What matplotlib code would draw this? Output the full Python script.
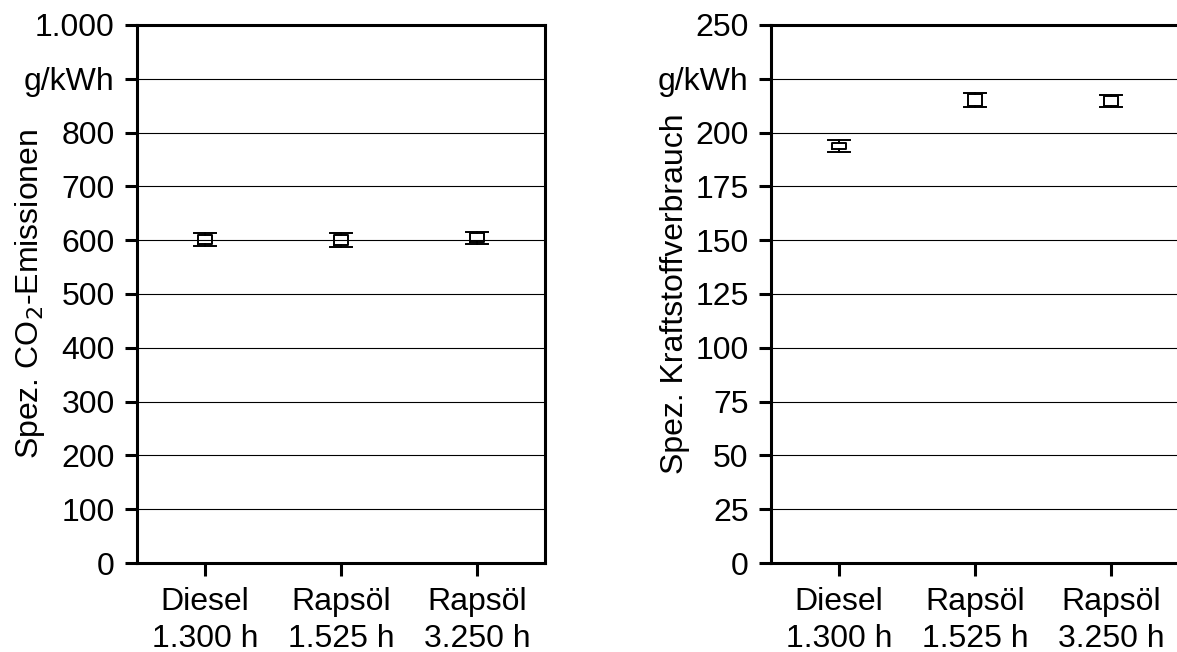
import numpy as np
import matplotlib.pyplot as plt

plt.rcParams['font.family'] = ['Liberation Sans', 'DejaVu Sans']
plt.rcParams['font.size'] = 23

categories = ['Diesel\n1.300 h', 'Rapsöl\n1.525 h', 'Rapsöl\n3.250 h']

# CO2 emissions, g/kWh
co2_med = [601, 600, 604]
co2_q1 = [593, 591, 596]
co2_q3 = [610, 609, 614]
co2_lo = [589, 588, 593]
co2_hi = [614, 613, 616]

# fuel consumption, g/kWh
fuel_med = [193.8, 215.1, 214.7]
fuel_q1 = [192.4, 212.4, 212.3]
fuel_q3 = [195.2, 217.8, 217.0]
fuel_lo = [191.1, 212.0, 211.8]
fuel_hi = [196.6, 218.2, 217.5]

co2_ticks = np.arange(0, 1001, 100)
co2_ticklabels = ['0', '100', '200', '300', '400', '500', '600', '700', '800', 'g/kWh', '1.000']
fuel_ticks = np.arange(0, 251, 25)
fuel_ticklabels = ['0', '25', '50', '75', '100', '125', '150', '175', '200', 'g/kWh', '250']


def stats(med, q1, q3, lo, hi):
    return [dict(med=m, q1=a, q3=b, whislo=l, whishi=h, fliers=[])
            for m, a, b, l, h in zip(med, q1, q3, lo, hi)]


def panel(ax, st, ticks, ticklabels, ylabel, labelx):
    pos = np.arange(1, len(categories) + 1)
    ax.bxp(st, positions=pos, widths=0.1, capwidths=0.16, showfliers=False,
           boxprops=dict(color='black', linewidth=1.4),
           whiskerprops=dict(color='black', linewidth=1.4),
           capprops=dict(color='black', linewidth=1.4),
           medianprops=dict(linewidth=0))
    ax.set_xlim(0.5, 3.5)
    ax.set_ylim(ticks[0], ticks[-1])
    ax.set_yticks(ticks)
    ax.set_yticklabels(ticklabels)
    ax.set_xticks(pos)
    ax.set_xticklabels(categories, linespacing=1.3)
    ax.yaxis.grid(True, color='black', linewidth=0.8)
    ax.set_axisbelow(True)
    for s in ax.spines.values():
        s.set_linewidth(2.2)
    ax.tick_params(axis='both', length=9, width=2.2, pad=7)
    ax.tick_params(axis='x', pad=8)
    ax.set_ylabel(ylabel)
    ax.yaxis.set_label_coords(labelx, 0.5)


fig = plt.figure(figsize=(11.77, 6.52), dpi=100)
ax1 = fig.add_axes([0.1164, 0.1365, 0.3466, 0.8252])
ax2 = fig.add_axes([0.655, 0.1365, 0.3466, 0.8252])

panel(ax1, stats(co2_med, co2_q1, co2_q3, co2_lo, co2_hi), co2_ticks, co2_ticklabels,
      'Spez. CO$_2$-Emissionen', -0.2206)
panel(ax2, stats(fuel_med, fuel_q1, fuel_q3, fuel_lo, fuel_hi), fuel_ticks, fuel_ticklabels,
      'Spez. Kraftstoffverbrauch', -0.1985)

fig.savefig('out.png', dpi=100)
